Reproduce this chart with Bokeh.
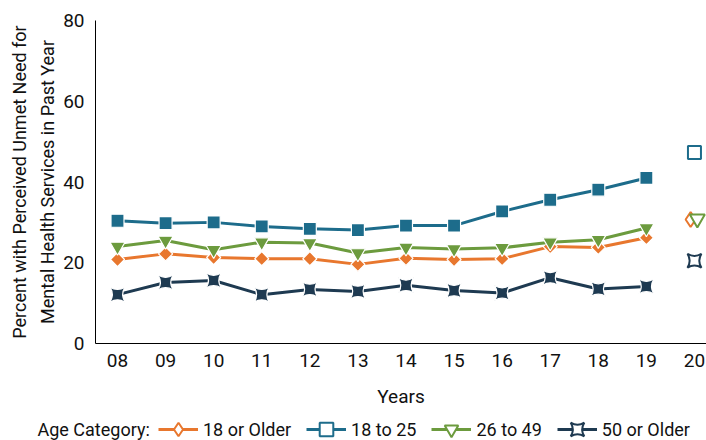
import math
from bokeh.plotting import figure
from bokeh.models import ColumnDataSource, FixedTicker, Legend, LegendItem, Label, Range1d
from bokeh.transform import dodge
from bokeh.embed import file_html
from bokeh.resources import INLINE

# ---- data ----
years = [8, 9, 10, 11, 12, 13, 14, 15, 16, 17, 18, 19]
year_2020 = [20]
tick_values = [8, 9, 10, 11, 12, 13, 14, 15, 16, 17, 18, 19, 20]
tick_labels = ["08", "09", "10", "11", "12", "13", "14", "15", "16", "17", "18", "19", "20"]
y_ticks = [0, 20, 40, 60, 80]

age_18_older = [20.8, 22.2, 21.3, 21.0, 21.0, 19.6, 21.1, 20.8, 21.0, 24.0, 23.8, 26.2]
age_18_to_25 = [30.4, 29.8, 30.0, 29.0, 28.4, 28.1, 29.2, 29.2, 32.7, 35.6, 38.1, 41.0]
age_26_to_49 = [24.0, 25.5, 23.2, 25.1, 24.9, 22.4, 23.8, 23.4, 23.7, 25.1, 25.7, 28.6]
age_50_older = [12.1, 15.1, 15.6, 12.1, 13.4, 12.9, 14.4, 13.1, 12.5, 16.3, 13.5, 14.1]

age_18_older_2020 = [30.7]
age_18_to_25_2020 = [47.3]
age_26_to_49_2020 = [30.9]
age_50_older_2020 = [20.5]

series_names = ["18 or Older", "18 to 25", "26 to 49", "50 or Older"]
legend_title = "Age Category:"

FONT = "Roboto"
ORANGE = "#E8772E"
BLUE = "#1D6C8B"
GREEN = "#6C9B3E"
NAVY = "#1E3A51"

# ---- layout (pixels) ----
W, H = 706, 440
AXIS_LEFT_PX = 95      # y-axis line position
AXIS_BOTTOM_PX = 343   # x-axis line position (from top)
TOP_PX = 20            # position of y = 80
FIRST_TICK_PX = 117    # position of x = 08
PX_PER_YEAR = 48.08
PX_PER_UNIT = (AXIS_BOTTOM_PX - TOP_PX) / 80.0

x0 = tick_values[0] - FIRST_TICK_PX / PX_PER_YEAR
x1 = x0 + W / PX_PER_YEAR
y1 = 80 + TOP_PX / PX_PER_UNIT
y0 = -(H - AXIS_BOTTOM_PX) / PX_PER_UNIT
x_axis_at = x0 + AXIS_LEFT_PX / PX_PER_YEAR

p = figure(width=W, height=H, output_backend="svg", toolbar_location=None,
           x_range=Range1d(x0, x1), y_range=Range1d(y0, y1),
           min_border=0, min_border_top=0, min_border_left=0,
           min_border_right=0, min_border_bottom=0)
p.outline_line_color = None
p.xgrid.visible = False
p.ygrid.visible = False

styles = [
    (series_names[0], age_18_older, age_18_older_2020, ORANGE, "square", math.pi / 4, 10, "diamond", 15, -0.08),
    (series_names[1], age_18_to_25, age_18_to_25_2020, BLUE, "square", 0, 13, "square", 13, 0.0),
    (series_names[2], age_26_to_49, age_26_to_49_2020, GREEN, "inverted_triangle", 0, 15, "inverted_triangle", 15, 0.06),
    (series_names[3], age_50_older, age_50_older_2020, NAVY, "square_pin", 0, 15, "square_pin", 14, 0.0),
]

items = []
for name, vals, v20, color, marker, ang, size, hmarker, hsize, dx in styles:
    src = ColumnDataSource(dict(x=years, y=vals))
    ln = p.line("x", "y", source=src, line_color=color, line_width=3)
    p.scatter("x", "y", source=src, marker=marker, size=size, angle=ang,
              fill_color=color, line_color="white", line_width=1.2)
    src20 = ColumnDataSource(dict(x=year_2020, y=v20))
    hol = p.scatter(x=dodge("x", dx, range=p.x_range), y="y", source=src20, marker=hmarker,
                    size=hsize, fill_color="white", line_color=color, line_width=2)
    items.append(LegendItem(label=name, renderers=[ln, hol]))

# axes (drawn at fixed positions inside the full-canvas frame)
xa = p.xaxis[0]
xa.fixed_location = 0
xa.bounds = (x_axis_at, x1)
xa.ticker = FixedTicker(ticks=tick_values)
xa.major_label_overrides = {v: l for v, l in zip(tick_values, tick_labels)}
xa.axis_label = "Years"
ya = p.yaxis[0]
ya.fixed_location = x_axis_at
ya.bounds = (0, 80)
ya.ticker = FixedTicker(ticks=y_ticks)
ya.axis_label = "Percent with Perceived Unmet Need for\nMental Health Services in Past Year"

for ax in (xa, ya):
    ax.major_tick_line_color = None
    ax.minor_tick_line_color = None
    ax.major_tick_out = 0
    ax.major_tick_in = 0
    ax.axis_line_color = "#000000"
    ax.axis_line_width = 1
    ax.major_label_text_font = FONT
    ax.major_label_text_font_size = "19px"
    ax.major_label_text_color = "#111111"
    ax.axis_label_text_font = FONT
    ax.axis_label_text_font_style = "normal"
    ax.axis_label_text_color = "#111111"

xa.major_label_standoff = 10
xa.axis_label_text_font_size = "19px"
xa.axis_label_standoff = 15
ya.major_label_standoff = 11
ya.axis_label_text_font_size = "18px"
ya.axis_label_text_line_height = 1.35
ya.axis_label_standoff = 2

legend = Legend(items=items, orientation="horizontal", location=(158, -6),
                glyph_width=40, glyph_height=34, label_standoff=5, spacing=15,
                padding=0, margin=0, border_line_color=None, background_fill_alpha=0,
                label_text_font=FONT, label_text_font_size="18px", label_height=20,
                label_text_color="#111111")
p.add_layout(legend)

p.add_layout(Label(x=37, y=11, x_units="screen", y_units="screen", text=legend_title,
                   text_font=FONT, text_font_size="18px", text_baseline="middle",
                   text_color="#111111"))

open("out.html", "w").write(file_html(p, INLINE))
